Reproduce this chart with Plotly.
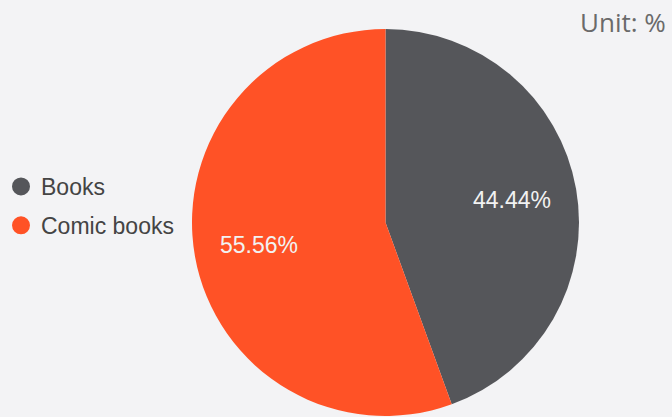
import math
import plotly.graph_objects as go

# Share of reading material, in percent
categories = ["Books", "Comic books"]
shares = [44.44, 55.56]
colors = ["#55565a", "#ff5226"]
unit_label = "Unit: %"

W, H = 672, 417
BG = "#f3f3f5"

# Pie placement in pixels
PIE_LEFT, PIE_RIGHT, PIE_TOP, PIE_BOTTOM = 192, 579, 29, 416
cx = (PIE_LEFT + PIE_RIGHT) / 2
cy = (PIE_TOP + PIE_BOTTOM) / 2
radius = (PIE_RIGHT - PIE_LEFT) / 2
LABEL_R = 0.665  # slice labels sit at this fraction of the radius

fig = go.Figure()

fig.add_trace(go.Pie(
    labels=categories,
    values=shares,
    sort=False,
    direction="clockwise",
    rotation=0,
    marker=dict(colors=colors, line=dict(width=0)),
    textinfo="none",
    hoverinfo="label+percent",
    showlegend=False,
    domain=dict(x=[PIE_LEFT / W, PIE_RIGHT / W],
                y=[1 - PIE_BOTTOM / H, 1 - PIE_TOP / H]),
))

# Percentage labels at the middle angle of each slice (clockwise from 12 o'clock)
total = sum(shares)
annotations = []
start = 0.0
for v in shares:
    mid = (start + v / 2) / total * 2 * math.pi
    px = cx + LABEL_R * radius * math.sin(mid)
    py = cy - LABEL_R * radius * math.cos(mid)
    annotations.append(dict(
        text=f"{v / total * 100:.2f}%", xref="paper", yref="paper",
        x=px / W, y=1 - py / H, xanchor="center", yanchor="middle",
        showarrow=False,
        font=dict(family="Liberation Sans, Arial, sans-serif", size=23, color="#f2f2f2"),
    ))
    start += v

annotations.append(dict(
    text=unit_label, xref="paper", yref="paper",
    x=668 / W, y=1 - 22 / H, xanchor="right", yanchor="middle",
    showarrow=False,
    font=dict(family="Open Sans, sans-serif", size=26, color="#6a6a6a"),
))

# Legend entries drawn with round markers
for name, col in zip(categories, colors):
    fig.add_trace(go.Scatter(
        x=[None], y=[None], mode="markers", name=name,
        marker=dict(symbol="circle", size=16, color=col, line=dict(width=2, color=col)),
        legendgroup=name,
    ))

fig.update_layout(
    width=W, height=H,
    margin=dict(l=0, r=0, t=0, b=0),
    paper_bgcolor=BG, plot_bgcolor=BG,
    xaxis=dict(visible=False), yaxis=dict(visible=False),
    legend=dict(
        x=1 / W, y=1 - 165 / H, xanchor="left", yanchor="top",
        font=dict(family="Liberation Sans, Arial, sans-serif", size=23, color="#444444"),
        bgcolor="rgba(0,0,0,0)",
        tracegroupgap=6,
        itemsizing="trace",
    ),
    annotations=annotations,
)

fig.write_html("out.html")
